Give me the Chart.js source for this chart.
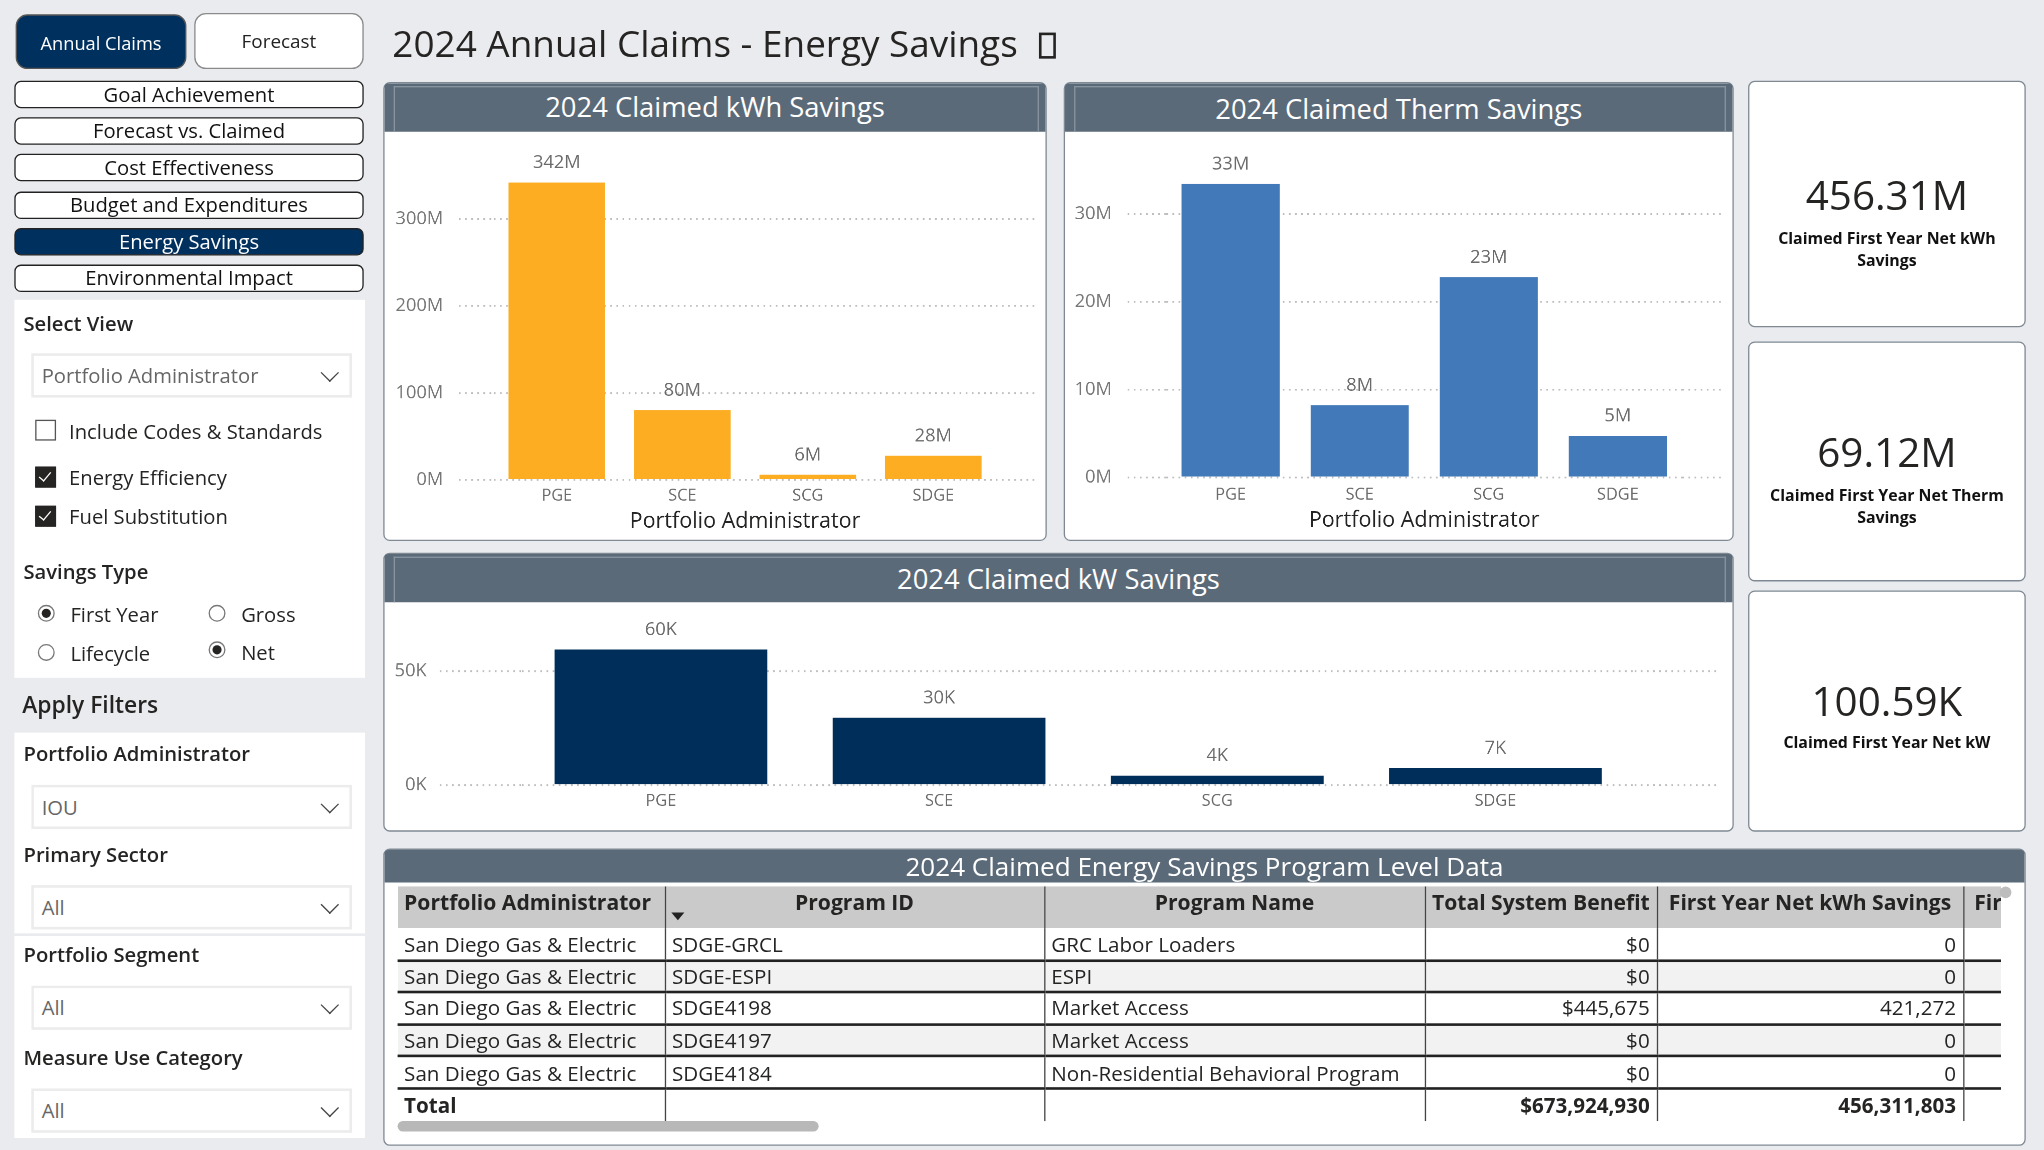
<!DOCTYPE html>
<html>
<head>
<meta charset="utf-8">
<script src="https://cdn.jsdelivr.net/npm/chart.js@4.4.1/dist/chart.umd.min.js"></script>
<style>
  html, body { margin: 0; padding: 0; background: #E9EBEE; overflow: hidden; }
  body { width: 2044px; height: 1150px; }
  #stage {
    position: absolute; left: 0; top: 0; width: 1568px; height: 882px;
    transform: scale(1.30357); transform-origin: 0 0;
    font-family: 'Open Sans', 'Noto Sans', sans-serif; color: #252423;
  }
  .abs { position: absolute; }
  .txt { position: absolute; white-space: nowrap; }
  .navbtn {
    position: absolute; left: 11px; width: 266px; height: 19px;
    border: 1.5px solid #222; border-radius: 5px; background: #fff;
    font-size: 15.5px; line-height: 19px; text-align: center; color: #111;
  }
  .navbtn.on { background: #00305E; color: #fff; }
  .panel { position: absolute; background: #fff; }
  .lbl { position: absolute; left: 18px; font-size: 15.5px; font-weight: 600; line-height: 20px; }
  .dd {
    position: absolute; left: 24px; width: 236px; height: 30px;
    border: 2px solid #ECECEC; background: #fff;
    font-size: 15.5px; line-height: 30px; color: #666; padding-left: 6px; box-sizing: content-box;
  }
  .dd::after {
    content: ''; position: absolute; right: 10px; top: 8px; width: 9px; height: 9px;
    border-right: 1.3px solid #444; border-bottom: 1.3px solid #444; transform: rotate(45deg);
  }
  .cb { position: absolute; left: 27px; width: 14px; height: 14px; border: 1.2px solid #555; background: #fff; }
  .cb.on { background: #252423; border-color: #252423; }
  .cb.on::after {
    content: ''; position: absolute; left: 4px; top: 1px; width: 4px; height: 8px;
    border-right: 1.5px solid #fff; border-bottom: 1.5px solid #fff; transform: rotate(40deg);
  }
  .rd { position: absolute; width: 11px; height: 11px; border: 1.2px solid #777; border-radius: 50%; background: #fff; }
  .rd.on::after {
    content: ''; position: absolute; left: 2px; top: 2px; width: 7px; height: 7px; border-radius: 50%; background: #252423;
  }
  .opt { position: absolute; font-size: 15.5px; line-height: 20px; }
  .card {
    position: absolute; background: #fff; border: 1.5px solid #7F8994; border-radius: 5px; box-sizing: border-box;
  }
  .cardhead {
    position: absolute; left: 0; right: 0; top: 0; background: #5B6A78; color: #fff; text-align: center;
    border-radius: 3px 3px 0 0;
  }
  .cardhead .inner {
    position: absolute; left: 7px; right: 5px; top: 2px; bottom: 0;
    border: 1px solid #8995A1; border-bottom: none;
  }
  .kpi { position: absolute; text-align: center; }
  .kpi .v { position: absolute; left: 0; right: 0; font-size: 31px; line-height: 40px; color: #252423; }
  .kpi .s { position: absolute; left: 10px; right: 10px; font-size: 12.2px; line-height: 16.5px; font-weight: 700; color: #111; }
  .chartbox { position: absolute; }
  .chartbox canvas { display: block; }
  table.grid { position: absolute; left: 305px; top: 680px; width: 1230px; border-collapse: collapse; table-layout: fixed; font-size: 15.8px; }
  table.grid th {
    background: #CACACA; font-weight: 700; font-size: 16.2px; height: 32px; padding: 0 5px; vertical-align: top; line-height: 24px;
    border-left: 1px solid #444; white-space: nowrap; overflow: hidden; box-sizing: border-box;
  }
  table.grid td {
    height: 24.6px; padding: 0 5px; line-height: 22px; border-bottom: 2px solid #222; border-left: 1px solid #444;
    white-space: nowrap; overflow: hidden; box-sizing: border-box;
  }
  table.grid th:first-child, table.grid td:first-child { border-left: none; }
  table.grid th:last-child { padding-left: 8px; }
  table.grid tr.alt td { background: #F2F2F2; }
  table.grid tr.total td { font-weight: 700; border-bottom: none; }
  .num { text-align: right; }
</style>
</head>
<body>
<div id="stage">
  <!-- top buttons -->
  <div class="abs" style="left:12px;top:11px;width:129px;height:40px;background:#00305E;border:1.5px solid #555;border-radius:9px;color:#fff;font-size:14px;line-height:42px;text-align:center;">Annual Claims</div>
  <div class="abs" style="left:149px;top:10px;width:128px;height:41px;background:#fff;border:1px solid #8A8A8A;border-radius:9px;color:#222;font-size:14.5px;line-height:41px;text-align:center;">Forecast</div>
  <div class="txt" style="left:301px;top:13px;font-size:28.3px;line-height:40px;color:#252423;">2024 Annual Claims - Energy Savings<span style="display:inline-block;width:9px;height:16px;border:2px solid #252423;margin-left:16px;vertical-align:-1px;"></span></div>

  <div id="nav"></div>

  <!-- view panel -->
  <div class="panel" style="left:11px;top:230px;width:269px;height:290px;"></div>
  <div class="lbl" style="top:238px;">Select View</div>
  <div class="dd" style="top:271px;">Portfolio Administrator</div>
  <div class="cb" style="top:322px;"></div><div class="opt" style="left:53px;top:321px;">Include Codes &amp; Standards</div>
  <div class="cb on" style="top:358px;"></div><div class="opt" style="left:53px;top:356px;">Energy Efficiency</div>
  <div class="cb on" style="top:388px;"></div><div class="opt" style="left:53px;top:386px;">Fuel Substitution</div>
  <div class="lbl" style="top:428px;">Savings Type</div>
  <div class="rd on" style="left:29px;top:464px;"></div><div class="opt" style="left:54px;top:461px;">First Year</div>
  <div class="rd" style="left:160px;top:464px;"></div><div class="opt" style="left:185px;top:461px;">Gross</div>
  <div class="rd" style="left:29px;top:494px;"></div><div class="opt" style="left:54px;top:491px;">Lifecycle</div>
  <div class="rd on" style="left:160px;top:492px;"></div><div class="opt" style="left:185px;top:490px;">Net</div>

  <div class="txt" style="left:17px;top:529px;font-size:17.5px;line-height:22px;font-weight:600;color:#252423;">Apply Filters</div>

  <!-- filter panels -->
  <div class="panel" style="left:11px;top:562px;width:269px;height:154px;"></div>
  <div class="panel" style="left:11px;top:718px;width:269px;height:155px;"></div>
  <div class="lbl" style="top:568px;">Portfolio Administrator</div>
  <div class="dd" style="top:602px;">IOU</div>
  <div class="lbl" style="top:645px;">Primary Sector</div>
  <div class="dd" style="top:679px;">All</div>
  <div class="lbl" style="top:722px;">Portfolio Segment</div>
  <div class="dd" style="top:756px;">All</div>
  <div class="lbl" style="top:801px;">Measure Use Category</div>
  <div class="dd" style="top:835px;">All</div>

  <!-- chart cards -->
  <div class="card" style="left:294px;top:63px;width:509px;height:352px;">
    <div class="cardhead" style="height:37px;font-size:21px;line-height:37px;"><div class="inner"></div>2024 Claimed kWh Savings</div>
  </div>
  <div class="chartbox" style="left:295px;top:102px;"><canvas id="kwhChart" width="507" height="314"></canvas></div>

  <div class="card" style="left:816px;top:63px;width:514px;height:352px;">
    <div class="cardhead" style="height:37px;font-size:21px;line-height:39px;"><div class="inner"></div>2024 Claimed Therm Savings</div>
  </div>
  <div class="chartbox" style="left:817px;top:102px;"><canvas id="thermChart" width="512" height="314"></canvas></div>

  <div class="card" style="left:294px;top:424px;width:1036px;height:214px;">
    <div class="cardhead" style="height:37px;font-size:21px;line-height:39px;"><div class="inner"></div>2024 Claimed kW Savings</div>
  </div>
  <div class="chartbox" style="left:295px;top:463px;"><canvas id="kwChart" width="1034" height="176"></canvas></div>

  <!-- KPI cards -->
  <div id="kpis"></div>

  <!-- table -->
  <div class="card" style="left:294px;top:651px;width:1260px;height:228px;">
    <div class="cardhead" style="height:25px;font-size:20px;line-height:25px;">2024 Claimed Energy Savings Program Level Data</div>
  </div>
  <table class="grid" id="grid"></table>
  <div class="abs" style="left:515px;top:700px;width:0;height:0;border-left:5px solid transparent;border-right:5px solid transparent;border-top:6px solid #222;"></div>
  <div class="abs" style="left:1534px;top:680px;width:9px;height:9px;border-radius:50%;background:#BDBDBD;"></div>
  <div class="abs" style="left:305px;top:860px;width:323px;height:8px;border-radius:4px;background:#B8B8B8;"></div>
</div>

<script>
// ---- data ----
const admins = ['PGE', 'SCE', 'SCG', 'SDGE'];
const kwhSavings = [342.1e6, 80.4e6, 6.0e6, 27.8e6];
const thermSavings = [33.4e6, 8.2e6, 22.8e6, 4.7e6];
const kwSavings = [59.6e3, 29.6e3, 4.1e3, 7.4e3];
const kwhTicks = [0, 100e6, 200e6, 300e6];
const thermTicks = [0, 10e6, 20e6, 30e6];
const kwTicks = [0, 50e3];

const navItems = ['Goal Achievement', 'Forecast vs. Claimed', 'Cost Effectiveness', 'Budget and Expenditures', 'Energy Savings', 'Environmental Impact'];
const kpiValues = ['456.31M', '69.12M', '100.59K'];
const kpiLabels = ['Claimed First Year Net kWh Savings', 'Claimed First Year Net Therm Savings', 'Claimed First Year Net kW'];

const tableHeaders = ['Portfolio Administrator', 'Program ID', 'Program Name', 'Total System Benefit', 'First Year Net kWh Savings', 'First Year Net Therm Savings'];
const tableAdmins = ['San Diego Gas & Electric', 'San Diego Gas & Electric', 'San Diego Gas & Electric', 'San Diego Gas & Electric', 'San Diego Gas & Electric'];
const tableIds = ['SDGE-GRCL', 'SDGE-ESPI', 'SDGE4198', 'SDGE4197', 'SDGE4184'];
const tableNames = ['GRC Labor Loaders', 'ESPI', 'Market Access', 'Market Access', 'Non-Residential Behavioral Program'];
const tableBenefit = ['$0', '$0', '$445,675', '$0', '$0'];
const tableKwh = ['0', '0', '421,272', '0', '0'];
const totalBenefit = '$673,924,930';
const totalKwh = '456,311,803';

// ---- static bits ----
const navTops = [62, 90, 118, 147, 175, 203];
document.getElementById('nav').innerHTML = navItems.map((t, i) =>
  `<div class="navbtn${t === 'Energy Savings' ? ' on' : ''}" style="top:${navTops[i]}px">${t}</div>`).join('');

const kpiBoxes = [
  { top: 62, h: 189, v: 129, s: 175 },
  { top: 262, h: 184, v: 326, s: 372 },
  { top: 453, h: 185, v: 517, s: 562 }
];
document.getElementById('kpis').innerHTML = kpiBoxes.map((b, i) =>
  `<div class="card" style="left:1341px;top:${b.top}px;width:213px;height:${b.h}px;"></div>
   <div class="kpi" style="left:1341px;width:213px;top:0;">
     <div class="v" style="top:${b.v}px">${kpiValues[i]}</div>
     <div class="s" style="top:${b.s}px">${kpiLabels[i]}</div>
   </div>`).join('');

const colW = [205, 291, 292, 178, 235, 29];
let html = '<colgroup>' + colW.map(w => `<col style="width:${w}px">`).join('') + '</colgroup>';
html += '<tr>' + tableHeaders.map((h, i) =>
  `<th style="text-align:${i === 0 || i === 5 ? 'left' : 'center'}">${h}</th>`).join('') + '</tr>';
tableIds.forEach((id, r) => {
  html += `<tr class="${r % 2 ? 'alt' : ''}"><td>${tableAdmins[r].replace('&', '&amp;')}</td><td>${id}</td><td>${tableNames[r]}</td>` +
    `<td class="num">${tableBenefit[r]}</td><td class="num">${tableKwh[r]}</td><td></td></tr>`;
});
html += `<tr class="total"><td>Total</td><td></td><td></td><td class="num">${totalBenefit}</td><td class="num">${totalKwh}</td><td></td></tr>`;
document.getElementById('grid').innerHTML = html;

// ---- charts ----
const FONT = "'Open Sans', 'Noto Sans', sans-serif";
const gridColor = '#BDBDBD';
const dash = [1.3, 3.4];

function valueLabels(fmt) {
  return {
    id: 'valueLabels',
    afterDatasetsDraw(chart) {
      const { ctx } = chart;
      const meta = chart.getDatasetMeta(0);
      const data = chart.data.datasets[0].data;
      ctx.save();
      ctx.font = `14px ${FONT}`;
      ctx.fillStyle = '#6B6B6B';
      ctx.textAlign = 'center';
      ctx.textBaseline = 'bottom';
      meta.data.forEach((bar, i) => {
        ctx.fillText(fmt(data[i]), bar.x, bar.y - 8);
      });
      ctx.restore();
    }
  };
}

function makeBarChart(id, values, color, ticks, cfg) {
  const tickSet = a => { a.ticks = ticks.map(v => ({ value: v })); };
  const fmt = cfg.fmt;
  return new Chart(document.getElementById(id), {
    type: 'bar',
    data: {
      labels: admins,
      datasets: [{
        data: values,
        backgroundColor: color,
        barPercentage: cfg.barPct,
        categoryPercentage: 1.0
      }]
    },
    plugins: [valueLabels(fmt)],
    options: {
      responsive: false,
      animation: false,
      devicePixelRatio: 2.6,
      layout: { padding: { top: cfg.padTop, left: 0, right: 0, bottom: 0 } },
      plugins: {
        legend: { display: false },
        tooltip: { enabled: false }
      },
      scales: {
        x: {
          offset: true,
          grid: { display: false, drawTicks: false },
          border: { display: false },
          afterFit: s => { s.height = cfg.xHeight; },
          ticks: { color: '#6B6B6B', font: { family: FONT, size: 12.5 }, padding: cfg.xPad, maxRotation: 0 },
          title: {
            display: !!cfg.title, text: cfg.title || '', color: '#252423',
            font: { family: FONT, size: 16.5 }, padding: { top: 0, bottom: cfg.titlePad }
          }
        },
        y: {
          min: 0, max: cfg.max,
          afterBuildTicks: tickSet,
          afterFit: s => { s.width = cfg.yWidth; },
          border: { display: false, dash: dash },
          grid: {
            color: gridColor, lineWidth: 1.3,
            tickLength: cfg.tickLeft, tickColor: gridColor, tickBorderDash: dash, tickWidth: 1.3
          },
          ticks: { color: '#777', font: { family: FONT, size: 14 }, padding: cfg.yPad, callback: v => fmt(v) }
        },
        y2: {
          position: 'right',
          min: 0, max: cfg.max,
          afterBuildTicks: tickSet,
          afterFit: s => { s.width = cfg.rightWidth; },
          border: { display: false, dash: dash },
          grid: {
            drawOnChartArea: false, color: gridColor, lineWidth: 1.3,
            tickLength: cfg.tickRight, tickColor: gridColor, tickBorderDash: dash, tickWidth: 1.3
          },
          ticks: { display: false }
        }
      }
    }
  });
}

const fmtM = v => Math.round(v / 1e6) + 'M';
const fmtK = v => Math.round(v / 1e3) + 'K';

makeBarChart('kwhChart', kwhSavings, '#FCAD22', kwhTicks, {
  max: 366e6, padTop: 22, xHeight: 48, yWidth: 84, tickLeft: 27, rightWidth: 38, tickRight: 31,
  barPct: 0.77, xPad: 5, yPad: 12, title: 'Portfolio Administrator', titlePad: 6, fmt: fmtM
});
makeBarChart('thermChart', thermSavings, '#4279B8', thermTicks, {
  max: 35.94e6, padTop: 22, xHeight: 50, yWidth: 77.5, tickLeft: 29.5, rightWidth: 38.5, tickRight: 31.5,
  barPct: 0.76, xPad: 6, yPad: 12, title: 'Portfolio Administrator', titlePad: 7, fmt: fmtM
});
makeBarChart('kwChart', kwSavings, '#002E5B', kwTicks, {
  max: 67.2e3, padTop: 22, xHeight: 37, yWidth: 105.3, tickLeft: 63, rightWidth: 75.3, tickRight: 64,
  barPct: 0.765, xPad: 5, yPad: 10, title: '', titlePad: 0, fmt: fmtK
});
</script>
</body>
</html>
